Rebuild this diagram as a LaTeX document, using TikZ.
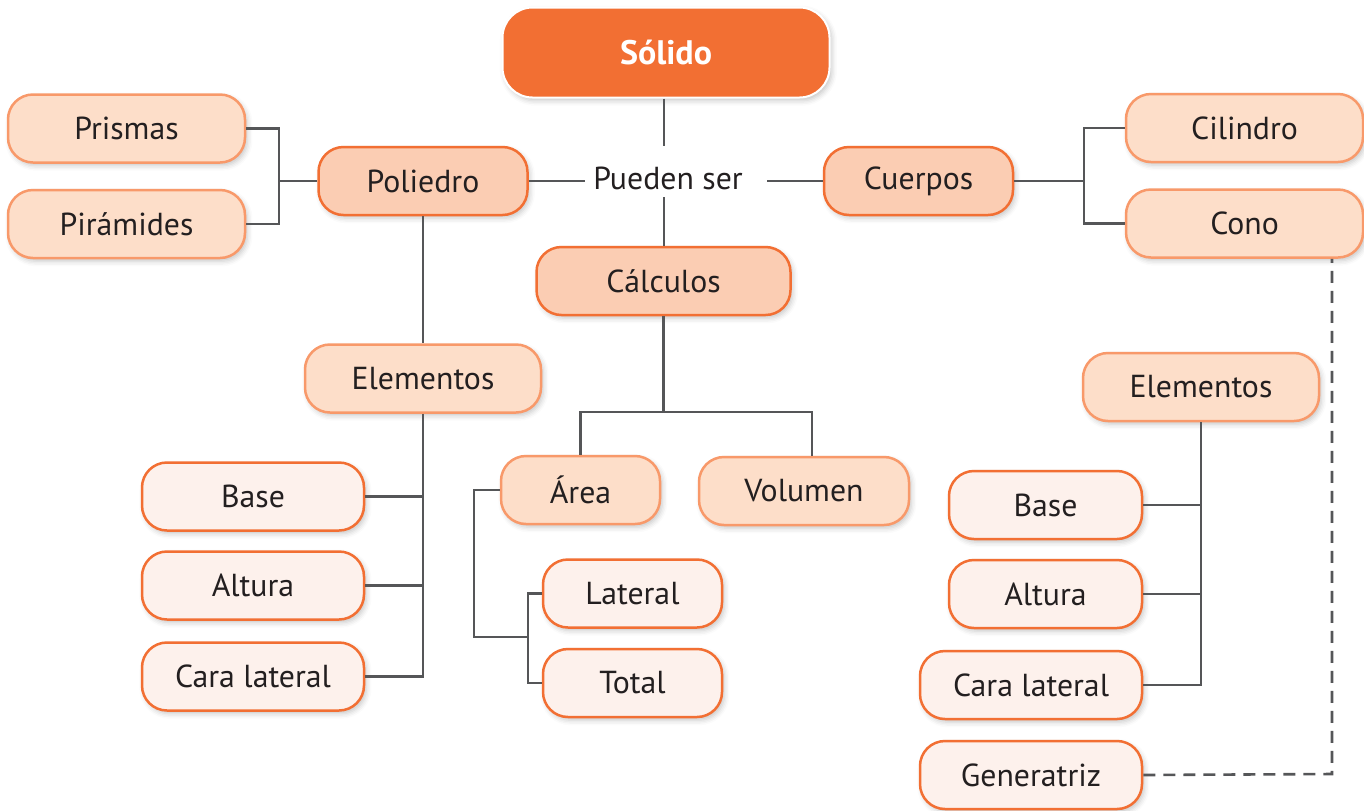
\documentclass[tikz,border=0pt]{standalone}
\usepackage{fontspec}
\setmainfont{PT Sans}
\usetikzlibrary{shadows.blur}
\definecolor{orangeA}{HTML}{F26F33}
\definecolor{fillB}{HTML}{FBCDB3}
\definecolor{fillC}{HTML}{FDDEC9}
\definecolor{strokeC}{HTML}{F8996A}
\definecolor{fillD}{HTML}{FDF1EC}
\definecolor{linegray}{HTML}{555658}
\definecolor{textdark}{HTML}{231F20}
\tikzset{
  box/.style={rounded corners=12.5pt, line width=1.25pt, text=textdark,
    font=\fontsize{15.9}{18}\selectfont, inner sep=0pt, minimum height=34pt,
    blur shadow={shadow xshift=1.2pt, shadow yshift=-1.6pt, shadow blur radius=2.5pt, shadow opacity=22}},
  topbox/.style={box, fill=orangeA, draw=white, line width=1pt, text=white,
    font=\fontsize{17}{20}\selectfont\bfseries, rounded corners=15pt},
  levelB/.style={box, fill=fillB, draw=orangeA},
  levelC/.style={box, fill=fillC, draw=strokeC},
  levelD/.style={box, fill=fillD, draw=orangeA},
  link/.style={draw=linegray, line width=1.3pt},
  dlink/.style={link, dash pattern=on 6pt off 4pt},
}
\begin{document}
\begin{tikzpicture}[x=0.5pt,y=-0.5pt]
\useasboundingbox (0,0) rectangle (1364,810);
% nodes
\node[topbox, minimum width=163.5pt, minimum height=45pt] (solido) at (666,52.5) {Sólido};
\node[levelC, minimum width=118.5pt] (prismas) at (126.5,128.5) {Prismas};
\node[levelC, minimum width=118.5pt] (piramides) at (126.5,224) {Pirámides};
\node[levelB, minimum width=104.5pt] (poliedro) at (423,181) {Poliedro};
\node[text=textdark, font=\fontsize{15.9}{18}\selectfont, inner sep=0pt] (pueden) at (668,178) {Pueden ser};
\node[levelB, minimum width=94.5pt] (cuerpos) at (918.5,181) {Cuerpos};
\node[levelC, minimum width=118.5pt] (cilindro) at (1244.5,128) {Cilindro};
\node[levelC, minimum width=118.5pt] (cono) at (1244.5,223.5) {Cono};
\node[levelB, minimum width=127pt] (calculos) at (663.5,281) {Cálculos};
\node[levelC, minimum width=118pt] (elemL) at (423,378.5) {Elementos};
\node[levelD, minimum width=111pt] (baseL) at (253,496.5) {Base};
\node[levelD, minimum width=111pt] (alturaL) at (253,585.5) {Altura};
\node[levelD, minimum width=111pt] (caraL) at (253,676.5) {Cara lateral};
\node[levelC, minimum width=79.5pt] (area) at (580.5,490) {Área};
\node[levelC, minimum width=105pt] (volumen) at (804,491) {Volumen};
\node[levelD, minimum width=89.5pt] (lateral) at (632.5,593.5) {Lateral};
\node[levelD, minimum width=89.5pt] (total) at (632.5,683) {Total};
\node[levelC, minimum width=118pt] (elemR) at (1201,387) {Elementos};
\node[levelD, minimum width=96.5pt] (baseR) at (1045.5,505) {Base};
\node[levelD, minimum width=96.5pt] (alturaR) at (1045.5,594) {Altura};
\node[levelD, minimum width=111pt] (caraR) at (1031,685) {Cara lateral};
\node[levelD, minimum width=111pt] (generatriz) at (1031,775) {Generatriz};
% junction coordinates
\coordinate (pt) at (664,146);
\coordinate (pb) at (664,197);
\coordinate (pl) at (585,181);
\coordinate (pr) at (767,181);
\coordinate (jl) at (279,181);
\coordinate (jr) at (1084,181);
\coordinate (cj) at (662,412);
\coordinate (vj) at (812,412);
\coordinate (aj) at (474,637);
\coordinate (lj) at (528,637);
\coordinate (dj) at (1332,774);
% connectors
\draw[link] (pt |- solido.south) -- (pt);
\draw[link] (pb) -- (pb |- calculos.north);
\draw[link] (poliedro.east) -- (pl);
\draw[link] (pr) -- (cuerpos.west);
\draw[link] (prismas.east) -| (jl) |- (piramides.east);
\draw[link] (jl) -- (poliedro.west);
\draw[link] (cuerpos.east) -- (jr);
\draw[link] (cilindro.west) -| (jr) |- (cono.west);
\draw[link] (poliedro.south) -- (elemL.north);
\draw[link] (elemL.south) |- (caraL.east);
\draw[link] (baseL.east) -- (baseL.east -| elemL.south);
\draw[link] (alturaL.east) -- (alturaL.east -| elemL.south);
\draw[link] (calculos.south) -- (calculos.south |- cj);
\draw[link] (area.north) |- (vj) -- (vj |- volumen.north);
\draw[link] (area.west) -| (aj) -- (lj);
\draw[link] (lateral.west) -| (lj) |- (total.west);
\draw[link] (elemR.south) |- (caraR.east);
\draw[link] (baseR.east) -- (baseR.east -| elemR.south);
\draw[link] (alturaR.east) -- (alturaR.east -| elemR.south);
\draw[dlink] (generatriz.east) -- (dj) -- (dj |- cono.south);
\end{tikzpicture}
\end{document}
